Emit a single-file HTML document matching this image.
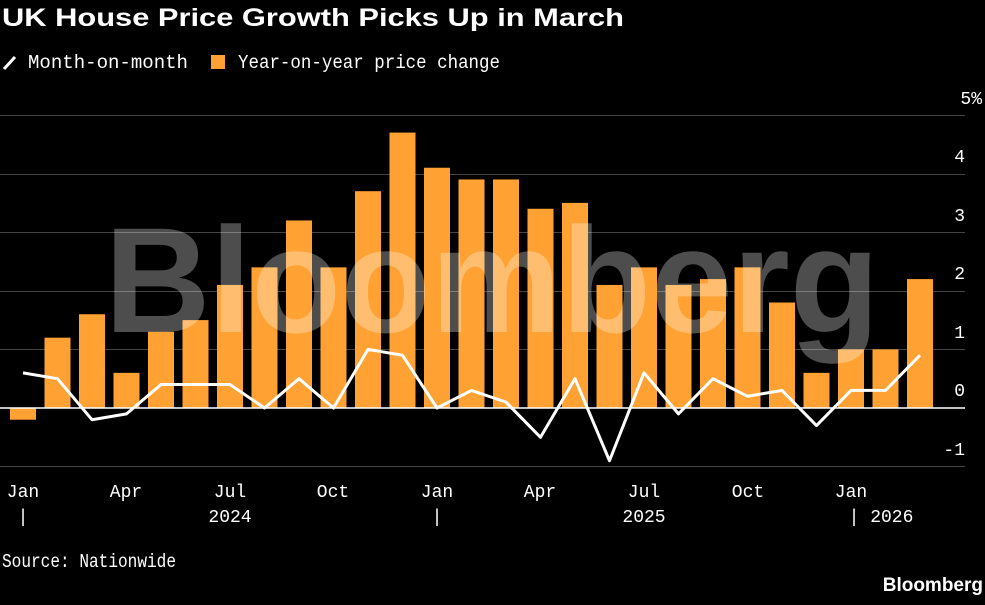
<!DOCTYPE html>
<html><head><meta charset="utf-8"><style>
body{margin:0;background:#000;width:985px;height:600px;overflow:hidden;font-family:"Liberation Sans",sans-serif}
</style></head><body>
<svg width="985" height="600" xmlns="http://www.w3.org/2000/svg" font-family="Liberation Sans, sans-serif">
<rect width="985" height="600" fill="#000"/>
<text x="2" y="26" fill="#fff" font-size="25" font-weight="bold" textLength="622" lengthAdjust="spacingAndGlyphs">UK House Price Growth Picks Up in March</text>
<line x1="4" y1="69" x2="15" y2="57" stroke="#fff" stroke-width="3"/>
<text x="28" y="68" fill="#fff" font-size="19" font-family="Liberation Mono, monospace" textLength="160" lengthAdjust="spacingAndGlyphs">Month-on-month</text>
<rect x="211" y="55" width="14" height="14" fill="#ffa133"/>
<text x="238" y="68" fill="#fff" font-size="19" font-family="Liberation Mono, monospace" textLength="262" lengthAdjust="spacingAndGlyphs">Year-on-year price change</text>
<g stroke="#444" stroke-width="1">
<line x1="0" x2="965" y1="115.5" y2="115.5"/><line x1="0" x2="965" y1="174.5" y2="174.5"/>
<line x1="0" x2="965" y1="232.5" y2="232.5"/><line x1="0" x2="965" y1="291.5" y2="291.5"/>
<line x1="0" x2="965" y1="349.5" y2="349.5"/><line x1="0" x2="965" y1="466.5" y2="466.5"/>
</g>
<g fill="#fff" font-size="18" text-anchor="end" font-family="Liberation Mono, monospace">
<text x="982" y="104">5%</text><text x="965" y="162">4</text><text x="965" y="221">3</text>
<text x="965" y="279">2</text><text x="965" y="338">1</text><text x="965" y="396">0</text><text x="965" y="455">-1</text>
</g>
<g id="bars" fill="#ffa133"></g>
<line x1="0" x2="965" y1="408" y2="408" stroke="#fff" stroke-width="1.5"/>
<text x="492" y="332" fill="#fff" fill-opacity="0.3" font-size="150" font-weight="bold" text-anchor="middle" textLength="775" lengthAdjust="spacingAndGlyphs">Bloomberg</text>
<polyline id="ln" fill="none" stroke="#fff" stroke-width="3" stroke-linejoin="round"/>
<g fill="#fff" font-size="18" text-anchor="middle" font-family="Liberation Mono, monospace">
<text x="23" y="497">Jan</text><text x="126" y="497">Apr</text><text x="230" y="497">Jul</text><text x="333" y="497">Oct</text>
<text x="437" y="497">Jan</text><text x="540" y="497">Apr</text><text x="644" y="497">Jul</text><text x="748" y="497">Oct</text><text x="851" y="497">Jan</text>
<text x="23" y="522">|</text><text x="230" y="522">2024</text><text x="437" y="522">|</text><text x="644" y="522">2025</text><text x="881" y="522">| 2026</text>
</g>
<text x="2" y="567" fill="#fff" font-size="19" font-family="Liberation Mono, monospace" textLength="174" lengthAdjust="spacingAndGlyphs">Source: Nationwide</text>
<text x="983" y="591" fill="#fff" font-size="19" font-weight="bold" text-anchor="end">Bloomberg</text>
</svg>
<script>
var yoy=[-0.2,1.2,1.6,0.6,1.3,1.5,2.1,2.4,3.2,2.4,3.7,4.7,4.1,3.9,3.9,3.4,3.5,2.1,2.4,2.1,2.2,2.4,1.8,0.6,1.0,1.0,2.2];
var mom=[0.6,0.5,-0.2,-0.1,0.4,0.4,0.4,0.0,0.5,0.0,1.0,0.9,0.0,0.3,0.1,-0.5,0.5,-0.9,0.6,-0.1,0.5,0.2,0.3,-0.3,0.3,0.3,0.9];
var z=408,u=58.6,s=34.5,x0=23,g=document.getElementById('bars'),pts=[];
for(var i=0;i<27;i++){var cx=x0+i*s,v=yoy[i],y=v>=0?z-v*u:z,h=Math.abs(v)*u;
var r=document.createElementNS('http://www.w3.org/2000/svg','rect');
r.setAttribute('x',cx-13);r.setAttribute('y',y);r.setAttribute('width',26);r.setAttribute('height',h);g.appendChild(r);
pts.push(cx+','+(z-mom[i]*u));}
document.getElementById('ln').setAttribute('points',pts.join(' '));
</script>
</body></html>
